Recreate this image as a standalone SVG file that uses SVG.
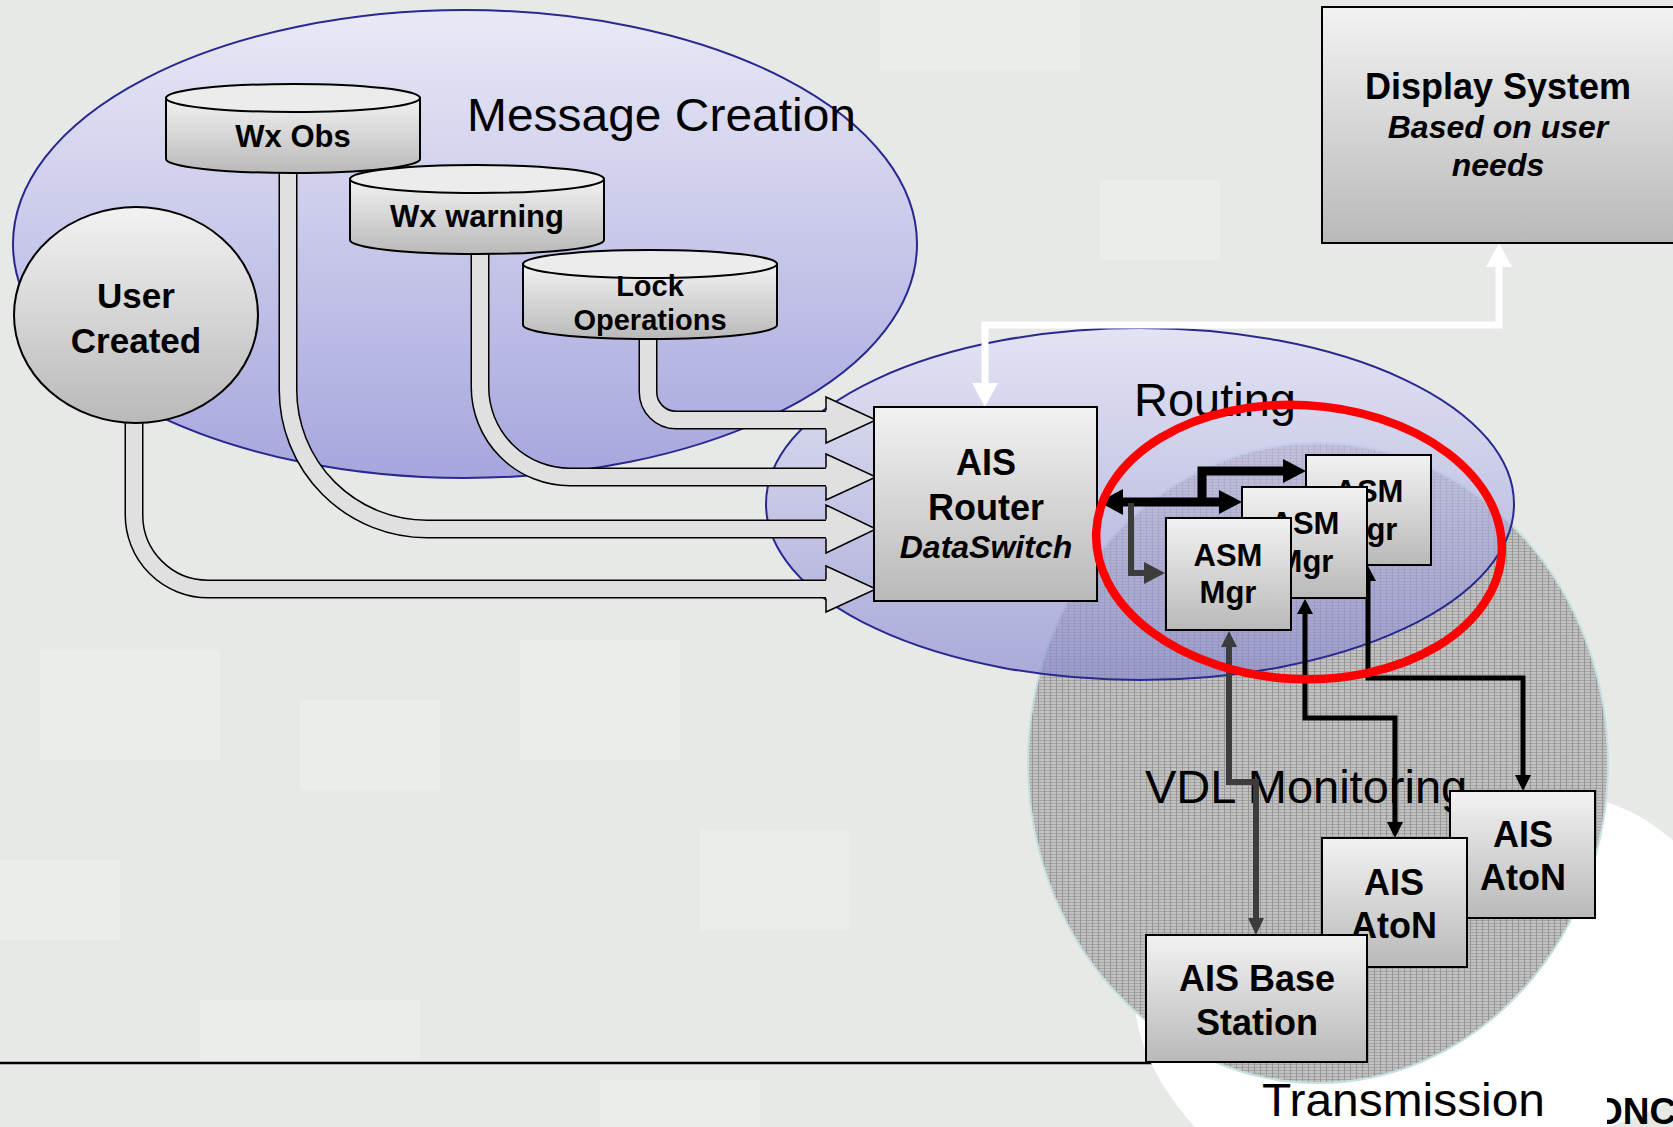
<svg xmlns="http://www.w3.org/2000/svg" width="1673" height="1127" viewBox="0 0 1673 1127">
<defs>
  <linearGradient id="gBox" x1="0" y1="0" x2="0" y2="1">
    <stop offset="0" stop-color="#f2f2f2"/>
    <stop offset="1" stop-color="#b9b9b9"/>
  </linearGradient>
  <linearGradient id="gMsg" gradientUnits="userSpaceOnUse" x1="0" y1="10" x2="0" y2="478">
    <stop offset="0" stop-color="#e9e9f6"/>
    <stop offset="1" stop-color="#a6a6de"/>
  </linearGradient>
  <linearGradient id="gRoute" gradientUnits="userSpaceOnUse" x1="0" y1="328" x2="0" y2="680">
    <stop offset="0" stop-color="#e0e0fa"/>
    <stop offset="1" stop-color="#8888d0"/>
  </linearGradient>
  <pattern id="grid" width="6" height="3" patternUnits="userSpaceOnUse">
    <rect width="6" height="3" fill="#c2c2c2"/>
    <rect y="2" width="6" height="1" fill="#a4a4a4"/>
    <rect width="1" height="3" fill="#969696"/>
  </pattern>
  <clipPath id="clipOnc"><rect x="1607" y="1080" width="70" height="50"/></clipPath>
</defs>
<style>
  .lbl{font-family:"Liberation Sans",Arial,sans-serif;font-size:47px;fill:#000}
  .b{font-family:"Liberation Sans",Arial,sans-serif;font-weight:bold;fill:#000;text-anchor:middle}
  .bi{font-family:"Liberation Sans",Arial,sans-serif;font-weight:bold;font-style:italic;fill:#000;text-anchor:middle}
  .box{fill:url(#gBox);stroke:#000;stroke-width:2}
  .cylTop{fill:#ececec;stroke:#000;stroke-width:2}
  .pipeO{fill:none;stroke:#000;stroke-width:19}
  .pipeI{fill:none;stroke:#e0e0e0;stroke-width:16}
  .head{fill:#e0e0e0;stroke:#000;stroke-width:1.5;stroke-linejoin:miter}
  .blk{fill:none;stroke:#000;stroke-width:5}
  .thick{fill:none;stroke:#000;stroke-width:9}
  .gry{fill:none;stroke:#3c3c3c;stroke-width:6}
  .wht{fill:none;stroke:#fff;stroke-width:7}
</style>

<!-- background -->
<rect width="1673" height="1127" fill="#e7e9e7"/>
<g fill="#f3f5f3" opacity="0.35">
  <rect x="40" y="650" width="180" height="110"/>
  <rect x="300" y="700" width="140" height="90"/>
  <rect x="520" y="640" width="160" height="120"/>
  <rect x="0" y="860" width="120" height="80"/>
  <rect x="700" y="830" width="150" height="100"/>
  <rect x="200" y="1000" width="220" height="60"/>
  <rect x="600" y="1080" width="160" height="47"/>
  <rect x="880" y="0" width="200" height="70"/>
  <rect x="1100" y="180" width="120" height="80"/>
</g>

<!-- bottom rule -->
<line x1="0" y1="1063" x2="1160" y2="1063" stroke="#000" stroke-width="2.5"/>

<!-- regions -->
<g id="region-transmission">
  <path d="M1135,1000 C1135,900 1350,800 1560,795 C1640,795 1720,860 1740,960 C1755,1040 1700,1100 1607,1127 C1500,1160 1250,1170 1195,1127 C1170,1100 1135,1050 1135,1000 Z" fill="#ffffff"/>
</g>
<g id="region-vdl">
  <ellipse cx="1318" cy="763" rx="290" ry="320" fill="url(#grid)" stroke="#c6e0e0" stroke-width="2"/>
</g>
<g id="region-message-creation">
  <ellipse cx="465" cy="244" rx="452" ry="234" fill="url(#gMsg)" stroke="#282890" stroke-width="2"/>
</g>
<g id="region-routing">
  <ellipse cx="1140" cy="504" rx="374" ry="176" fill="url(#gRoute)" fill-opacity="0.65" stroke="#282890" stroke-width="2"/>
</g>

<g id="region-labels">
  <text class="lbl" x="467" y="131" textLength="389" lengthAdjust="spacingAndGlyphs">Message Creation</text>
  <text class="lbl" x="1134" y="416">Routing</text>
  <text class="lbl" x="1145" y="803">VDL Monitoring</text>
  <text class="lbl" x="1262" y="1116" textLength="283" lengthAdjust="spacingAndGlyphs">Transmission</text>
  <text x="1594" y="1124" clip-path="url(#clipOnc)" font-family="Liberation Sans, Arial, sans-serif" font-weight="bold" font-size="37" fill="#000">ONC</text>
</g>

<!-- connectors -->
<g id="connectors">
  <path class="pipeO" d="M648,330 V392 A28,28 0 0 0 676,420 H826"/>
  <path class="pipeI" d="M648,330 V392 A28,28 0 0 0 676,420 H826"/>
  <path class="head" d="M826,410.5 V397 L876,420 L826,443 V429.5"/>

  <path class="pipeO" d="M480,245 V387 A90,90 0 0 0 570,477 H826"/>
  <path class="pipeI" d="M480,245 V387 A90,90 0 0 0 570,477 H826"/>
  <path class="head" d="M826,467.5 V454 L876,477 L826,500 V486.5"/>

  <path class="pipeO" d="M288,165 V390 A139,139 0 0 0 427,529 H826"/>
  <path class="pipeI" d="M288,165 V390 A139,139 0 0 0 427,529 H826"/>
  <path class="head" d="M826,519.5 V505 L876,529 L826,553 V538.5"/>

  <path class="pipeO" d="M134,415 V515 A74,74 0 0 0 208,589 H826"/>
  <path class="pipeI" d="M134,415 V515 A74,74 0 0 0 208,589 H826"/>
  <path class="head" d="M826,579.5 V566 L876,589 L826,612 V598.5"/>

  <path class="wht" d="M985,385 V325 H1499 V265"/>
  <polygon points="985,407 972,383 998,383" fill="#fff"/>
  <polygon points="1499,243 1486,267 1512,267" fill="#fff"/>

  <path class="thick" d="M1118,502 H1224"/>
  <polygon points="1099,502 1123,489 1123,515" fill="#000"/>
  <polygon points="1242,502 1219,490 1219,514" fill="#000"/>
  <path class="thick" d="M1202,506 V471 H1286" stroke-width="8"/>
  <polygon points="1306,471 1283,459 1283,483" fill="#000"/>
  <path class="gry" d="M1131,503 V573 H1146" stroke-width="7"/>
  <polygon points="1165,573 1144,562 1144,584" fill="#3c3c3c"/>

  <path class="gry" d="M1229,645 V782 H1256 V919"/>
  <polygon points="1229,631 1221,647 1237,647" fill="#3c3c3c"/>
  <polygon points="1256,935 1248,918 1264,918" fill="#3c3c3c"/>

  <path class="blk" d="M1305,612 V718 H1395 V823"/>
  <polygon points="1305,599 1297,614 1313,614" fill="#000"/>
  <polygon points="1395,838 1387,822 1403,822" fill="#000"/>

  <path class="blk" d="M1368,580 V678 H1523 V776"/>
  <polygon points="1368,566 1360,581 1376,581" fill="#000"/>
  <polygon points="1523,791 1515,775 1531,775" fill="#000"/>
</g>

<!-- nodes -->
<g id="user-created">
  <ellipse class="box" cx="136" cy="315" rx="122" ry="108"/>
  <text class="b" x="136" y="308" font-size="35">User</text>
  <text class="b" x="136" y="353" font-size="35">Created</text>
</g>

<g id="wx-obs">
  <path class="box" d="M166,98 V159 A127,14 0 0 0 420,159 V98 Z"/>
  <ellipse class="cylTop" cx="293" cy="98" rx="127" ry="14"/>
  <text class="b" x="293" y="147" font-size="31">Wx Obs</text>
</g>

<g id="wx-warning">
  <path class="box" d="M350,179 V240 A127,14 0 0 0 604,240 V179 Z"/>
  <ellipse class="cylTop" cx="477" cy="179" rx="127" ry="14"/>
  <text class="b" x="477" y="227" font-size="31">Wx warning</text>
</g>

<g id="lock-operations">
  <path class="box" d="M523,264 V325 A127,14 0 0 0 777,325 V264 Z"/>
  <ellipse class="cylTop" cx="650" cy="264" rx="127" ry="14"/>
  <text class="b" x="650" y="296" font-size="29">Lock</text>
  <text class="b" x="650" y="330" font-size="29">Operations</text>
</g>

<g id="ais-router">
  <rect class="box" x="874" y="407" width="223" height="194"/>
  <text class="b" x="986" y="475" font-size="36">AIS</text>
  <text class="b" x="986" y="520" font-size="36">Router</text>
  <text class="bi" x="986" y="558" font-size="32">DataSwitch</text>
</g>

<g id="display-system">
  <rect class="box" x="1322" y="7" width="370" height="236"/>
  <text class="b" x="1498" y="99" font-size="36">Display System</text>
  <text class="bi" x="1498" y="138" font-size="32">Based on user</text>
  <text class="bi" x="1498" y="176" font-size="32">needs</text>
</g>

<g id="asm-mgr-3">
  <rect class="box" x="1306" y="455" width="125" height="110"/>
  <text class="b" x="1369" y="502" font-size="31">ASM</text>
  <text class="b" x="1369" y="540" font-size="31">Mgr</text>
</g>
<g id="asm-mgr-2">
  <rect class="box" x="1242" y="487" width="125" height="111"/>
  <text class="b" x="1305" y="534" font-size="31">ASM</text>
  <text class="b" x="1305" y="572" font-size="31">Mgr</text>
</g>
<g id="asm-mgr-1">
  <rect class="box" x="1166" y="518" width="125" height="112"/>
  <text class="b" x="1228" y="566" font-size="31">ASM</text>
  <text class="b" x="1228" y="603" font-size="31">Mgr</text>
</g>

<g id="ais-aton-2">
  <rect class="box" x="1450" y="791" width="145" height="127"/>
  <text class="b" x="1523" y="847" font-size="36">AIS</text>
  <text class="b" x="1523" y="890" font-size="36">AtoN</text>
</g>
<g id="ais-aton-1">
  <rect class="box" x="1322" y="838" width="145" height="129"/>
  <text class="b" x="1394" y="895" font-size="36">AIS</text>
  <text class="b" x="1394" y="938" font-size="36">AtoN</text>
</g>
<g id="ais-base-station">
  <rect class="box" x="1146" y="935" width="221" height="127"/>
  <text class="b" x="1257" y="991" font-size="36">AIS Base</text>
  <text class="b" x="1257" y="1035" font-size="36">Station</text>
</g>

<g id="highlight">
  <ellipse cx="1299" cy="542" rx="203" ry="137" transform="rotate(3 1299 542)" fill="none" stroke="#ff0000" stroke-width="8.5"/>
</g>
</svg>
